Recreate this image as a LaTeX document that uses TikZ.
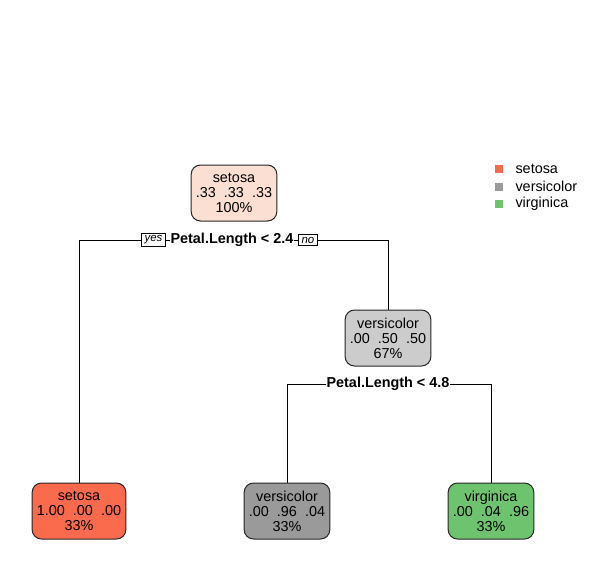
\documentclass[tikz,border=0pt]{standalone}
\usepackage{fontspec}
\setmainfont{Liberation Sans}
\usetikzlibrary{positioning}
\pgfdeclarelayer{background}
\pgfsetlayers{background,main}
\definecolor{rootfill}{HTML}{FCDFD3}
\definecolor{setosafill}{HTML}{FA6A4D}
\definecolor{versfill}{HTML}{CCCCCC}
\definecolor{versleaffill}{HTML}{9A9A9A}
\definecolor{virgfill}{HTML}{6EC46E}

\begin{document}
\begin{tikzpicture}[x=0.75pt,y=-0.75pt,
		box/.style={draw=black!85,line width=0.75pt,rounded corners=7pt,align=center,
			inner xsep=3.6pt,minimum height=42pt,font=\fontsize{10.8}{11.25}\selectfont},
		split/.style={fill=white,inner xsep=0.4pt,inner ysep=1pt,font=\bfseries\fontsize{10.8}{12}\selectfont},
		yesno/.style={draw,fill=white,line width=0.6pt,inner xsep=2.2pt,inner ysep=1.6pt,font=\itshape\fontsize{8.6}{9}\selectfont},
		key/.style={minimum size=6pt,inner sep=0pt},
		keytext/.style={font=\fontsize{10.8}{12}\selectfont,inner sep=1pt}]
		\useasboundingbox (0,0) rectangle (609,583);

		% root and first split
		\node [box, fill=rootfill] (root) at (234,193) {setosa\\.33\ \ .33\ \ .33\\100\%};
		\node [split] (split1) at (232,240) {Petal.Length < 2.4};
		\node [yesno, left=3pt of split1] (yes) {yes};
		\node [yesno, right=3pt of split1] (no) {no};

		% right branch
		\node [box, fill=versfill] (vers) at (388,338) {versicolor\\.00\ \ .50\ \ .50\\67\%};
		\node [split] (split2) at (388,384) {Petal.Length < 4.8};

		% leaves
		\node [box, fill=setosafill] (setosa) at (79,511) {setosa\\1.00\ \ .00\ \ .00\\33\%};
		\node [box, fill=versleaffill] (versleaf) at (287,511) {versicolor\\.00\ \ .96\ \ .04\\33\%};
		\node [box, fill=virgfill] (virg) at (491,511) {virginica\\.00\ \ .04\ \ .96\\33\%};

		% branches, behind the labels
		\begin{pgfonlayer}{background}
			\draw [line width=0.75pt] (setosa.north) |- (split1.center) -| (vers.north);
			\draw [line width=0.75pt] (versleaf.north) |- (split2.center) -| (virg.north);
		\end{pgfonlayer}

		% legend
		\node [key, fill=setosafill] (k1) at (499,169) {};
		\node [key, fill=versleaffill] (k2) at (499,186.5) {};
		\node [key, fill=virgfill] (k3) at (499,204) {};
		\node [keytext, right=8pt of k1] (t1) {setosa};
		\node [keytext, right=8pt of k2] (t2) {versicolor};
		\node [keytext, right=8pt of k3] (t3) {virginica};
	\end{tikzpicture}
\end{document}
